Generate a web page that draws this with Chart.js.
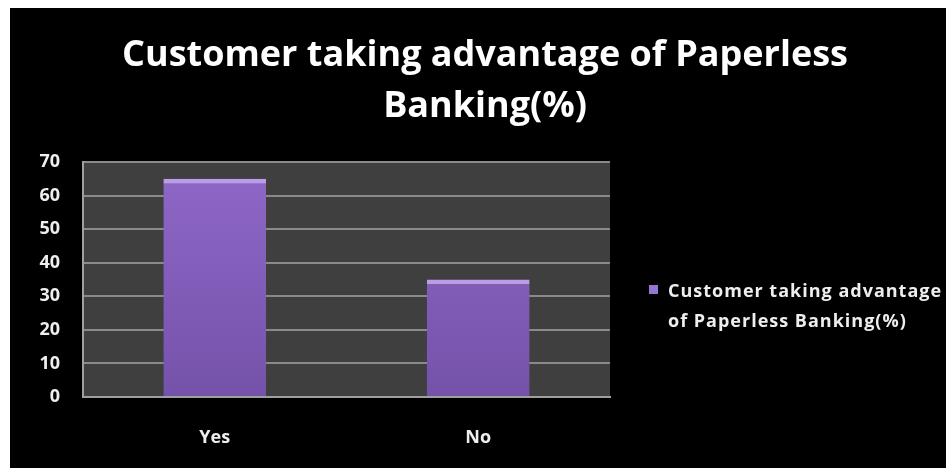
<!DOCTYPE html>
<html>
<head>
<meta charset="utf-8">
<script src="https://cdn.jsdelivr.net/npm/chart.js@4.4.0/dist/chart.umd.min.js"></script>
<style>
    html, body { margin: 0; padding: 0; background: #fff; }
    #wrap {
        position: absolute;
        left: 10px;
        top: 8px;
        width: 936px;
        height: 460px;
        background: #000;
    }
</style>
</head>
<body>
<div id="wrap"><canvas id="paperlessChart"></canvas></div>
<script>
const titleLines = ['Customer taking advantage of Paperless', 'Banking(%)'];
const categories = ['Yes', 'No'];
const seriesName = 'Customer taking advantage of Paperless Banking(%)';
const seriesValues = [65, 35];
const legendLines = ['Customer taking advantage', 'of Paperless Banking(%)'];

const FONT = '"Open Sans", Lato, sans-serif';

// grey plot background behind the bars
const plotBackground = {
    id: 'plotBackground',
    beforeDraw(chart) {
        const { ctx, chartArea: a } = chart;
        ctx.save();
        ctx.fillStyle = '#3f3f3f';
        ctx.fillRect(a.left, a.top, a.right - a.left, a.bottom - a.top);
        ctx.restore();
    }
};

// big two-line heading, centred on the whole canvas rather than the plot
const heading = {
    id: 'heading',
    afterDraw(chart) {
        const { ctx, width } = chart;
        ctx.save();
        ctx.fillStyle = '#ffffff';
        ctx.font = 'bold 36px ' + FONT;
        ctx.textAlign = 'center';
        ctx.textBaseline = 'alphabetic';
        ctx.fillText(titleLines[0], width / 2 + 7, 58);
        ctx.fillText(titleLines[1], width / 2 + 7, 109);
        ctx.restore();
    }
};

// two-line legend to the right of the plot
const sideLegend = {
    id: 'sideLegend',
    afterDraw(chart) {
        const { ctx, chartArea: a } = chart;
        const x = a.right + 39;
        ctx.save();
        ctx.fillStyle = '#9674d2';
        ctx.fillRect(x, 277, 9, 9);
        ctx.fillStyle = '#eeeeee';
        ctx.font = 'bold 18px ' + FONT;
        ctx.letterSpacing = '1px';
        ctx.textBaseline = 'alphabetic';
        ctx.fillText(legendLines[0], x + 19, 289);
        ctx.fillText(legendLines[1], x + 19, 319);
        ctx.restore();
    }
};

const barFill = (context) => {
    const { ctx, chartArea } = context.chart;
    if (!chartArea) return '#8462bc';
    const g = ctx.createLinearGradient(0, chartArea.top, 0, chartArea.bottom);
    g.addColorStop(0, '#9068c8');
    g.addColorStop(1, '#7552aa');
    return g;
};

new Chart(document.getElementById('paperlessChart'), {
    type: 'bar',
    data: {
        labels: categories,
        datasets: [{
            label: seriesName,
            data: seriesValues,
            backgroundColor: barFill,
            borderColor: '#bc9cea',
            borderWidth: { top: 5, left: 0, right: 0, bottom: 0 },
            borderSkipped: false,
            categoryPercentage: 1,
            barPercentage: 0.39
        }]
    },
    options: {
        responsive: true,
        maintainAspectRatio: false,
        animation: false,
        layout: { padding: { left: 0, right: 336, top: 154, bottom: 0 } },
        plugins: {
            legend: { display: false },
            tooltip: { enabled: false },
            title: { display: false }
        },
        scales: {
            x: {
                grid: { display: false, drawTicks: false },
                border: { color: '#a0a0a0', width: 2 },
                ticks: {
                    color: '#eeeeee',
                    padding: 30,
                    font: { family: FONT, size: 18, weight: 'bold' }
                },
                afterFit(scale) { scale.height = 71; }
            },
            y: {
                min: 0,
                max: 70,
                grid: { color: '#8a8a8a', lineWidth: 2, drawTicks: false },
                border: { color: '#a0a0a0', width: 2 },
                ticks: {
                    stepSize: 10,
                    color: '#eeeeee',
                    padding: 23,
                    font: { family: FONT, size: 18, weight: 'bold' }
                },
                afterFit(scale) { scale.width = 73; }
            }
        }
    },
    plugins: [plotBackground, heading, sideLegend]
});
</script>
</body>
</html>
